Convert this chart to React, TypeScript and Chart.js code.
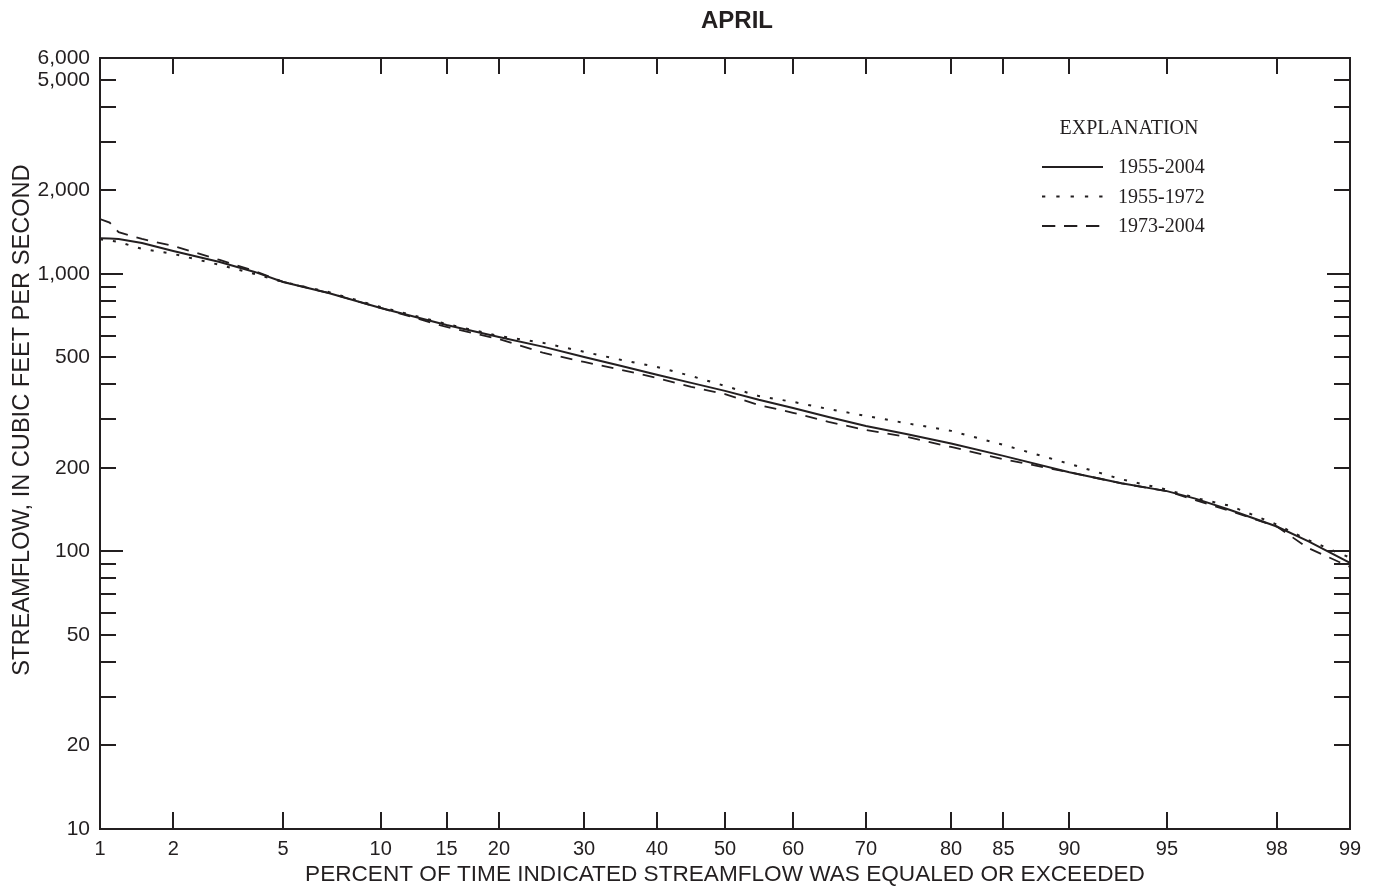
import React, { useEffect, useRef } from 'react';
import { Chart, registerables } from 'chart.js';

Chart.register(...registerables);

// ---- data (percent of time exceeded, streamflow in cfs) ----
const PERCENT = [1, 1.1, 1.2, 1.5, 2, 3, 4, 5, 7, 10, 15, 20, 25, 30, 35, 40, 45, 50, 55, 60, 65, 70, 75, 80, 85, 90, 93, 95, 96, 97, 98, 98.5, 99];
const FLOW_1955_2004 = [1345, 1343, 1337, 1293, 1210, 1105, 1017, 936, 854, 754, 655, 593, 546, 502, 466, 433, 405, 379, 352, 329, 305, 283, 265, 245, 221, 193, 176, 165, 155, 141, 123, 109, 91];
const FLOW_1955_1972 = [1333, 1320, 1304, 1231, 1181, 1078, 1000, 936, 861, 760, 660, 598, 564, 524, 490, 462, 429, 395, 363, 346, 326, 308, 290, 272, 242, 207, 182, 167, 156, 146, 125, 110, 95];
const FLOW_1973_2004 = [1578, 1531, 1414, 1337, 1262, 1123, 1025, 936, 854, 754, 644, 583, 519, 482, 451, 422, 392, 369, 337, 316, 293, 274, 259, 238, 215, 193, 176, 165, 153, 140, 123, 103, 88];

const X_TICKS = [1, 2, 5, 10, 15, 20, 30, 40, 50, 60, 70, 80, 85, 90, 95, 98, 99];
const Y_TICKS = [10, 20, 30, 40, 50, 60, 70, 80, 90, 100, 200, 300, 400, 500, 600, 700, 800, 900, 1000, 2000, 3000, 4000, 5000, 6000];
const Y_LABELS = [10, 20, 50, 100, 200, 500, 1000, 2000, 5000, 6000];
const Y_MAJOR = [10, 100, 1000];

const TITLE = 'APRIL';
const X_TITLE = 'PERCENT OF TIME INDICATED STREAMFLOW WAS EQUALED OR EXCEEDED';
const Y_TITLE = 'STREAMFLOW, IN CUBIC FEET PER SECOND';
const LEGEND_TITLE = 'EXPLANATION';

const INK = '#231f20';
const SANS = '"Liberation Sans", Arial, Helvetica, sans-serif';
const SERIF = '"Liberation Serif", "Times New Roman", serif';

// inverse standard normal CDF (probability-scale transform)
function probit(p: number): number {
  const a = [-3.969683028665376e1, 2.209460984245205e2, -2.759285104469687e2, 1.38357751867269e2, -3.066479806614716e1, 2.506628277459239];
  const b = [-5.447609879822406e1, 1.615858368580409e2, -1.556989798598866e2, 6.680131188771972e1, -1.328068155288572e1];
  const c = [-7.784894002430293e-3, -3.223964580411365e-1, -2.400758277161838, -2.549732539343734, 4.374664141464968, 2.938163982698783];
  const d = [7.784695709041462e-3, 3.224671290700398e-1, 2.445134137142996, 3.754408661907416];
  const plow = 0.02425;
  if (p < plow) {
    const q = Math.sqrt(-2 * Math.log(p));
    return (((((c[0] * q + c[1]) * q + c[2]) * q + c[3]) * q + c[4]) * q + c[5]) / ((((d[0] * q + d[1]) * q + d[2]) * q + d[3]) * q + 1);
  }
  if (p <= 1 - plow) {
    const q = p - 0.5;
    const r = q * q;
    return ((((((a[0] * r + a[1]) * r + a[2]) * r + a[3]) * r + a[4]) * r + a[5]) * q) / (((((b[0] * r + b[1]) * r + b[2]) * r + b[3]) * r + b[4]) * r + 1);
  }
  const q = Math.sqrt(-2 * Math.log(1 - p));
  return -(((((c[0] * q + c[1]) * q + c[2]) * q + c[3]) * q + c[4]) * q + c[5]) / ((((d[0] * q + d[1]) * q + d[2]) * q + d[3]) * q + 1);
}

const decorPlugin = {
  id: 'decor',
  afterDraw(chart: any) {
    const { ctx, chartArea } = chart;
    const { left, right, top, bottom } = chartArea;
    const xs = chart.scales.x;
    const ys = chart.scales.y;
    ctx.save();
    ctx.strokeStyle = INK;
    ctx.fillStyle = INK;

    // inward ticks
    ctx.lineWidth = 2;
    ctx.beginPath();
    X_TICKS.forEach((p) => {
      const px = Math.round(xs.getPixelForValue(probit(p / 100)));
      ctx.moveTo(px, bottom);
      ctx.lineTo(px, bottom - 17);
      ctx.moveTo(px, top);
      ctx.lineTo(px, top + 16);
    });
    Y_TICKS.forEach((v) => {
      const py = Math.round(ys.getPixelForValue(v));
      const len = Y_MAJOR.includes(v) ? 23 : 16;
      ctx.moveTo(left, py);
      ctx.lineTo(left + len, py);
      ctx.moveTo(right, py);
      ctx.lineTo(right - len, py);
    });
    ctx.stroke();

    // frame
    ctx.lineWidth = 2;
    ctx.strokeRect(left, top, right - left, bottom - top);

    // title
    ctx.font = `bold 24px ${SANS}`;
    ctx.textAlign = 'center';
    ctx.textBaseline = 'middle';
    ctx.fillText(TITLE, 737, 21);

    // x title
    ctx.font = `22.6px ${SANS}`;
    ctx.fillText(X_TITLE, 725, 875);

    // y title
    ctx.save();
    ctx.translate(22, 420);
    ctx.rotate(-Math.PI / 2);
    ctx.font = `23.6px ${SANS}`;
    ctx.fillText(Y_TITLE, 0, 0);
    ctx.restore();

    // legend
    ctx.font = `20px ${SERIF}`;
    ctx.textAlign = 'center';
    ctx.fillText(LEGEND_TITLE, 1129, 129);
    const rows = [167, 196.5, 226];
    const dashes = [[], [3.3, 11], [13.3, 8.7]];
    chart.data.datasets.forEach((ds: any, i: number) => {
      const y = rows[i];
      ctx.beginPath();
      ctx.lineWidth = 2;
      ctx.setLineDash(dashes[i]);
      ctx.moveTo(1042, y);
      ctx.lineTo(1103, y);
      ctx.stroke();
      ctx.setLineDash([]);
      ctx.textAlign = 'left';
      ctx.fillText(ds.label, 1118, y + 1);
    });
    ctx.restore();
  },
};

export default function App() {
  const ref = useRef<HTMLCanvasElement>(null);
  useEffect(() => {
    const canvas = ref.current!;
    const zs = PERCENT.map((p) => probit(p / 100));
    const mk = (vals: number[]) => vals.map((v, i) => ({ x: zs[i], y: v }));
    const chart = new Chart(canvas, {
      type: 'line',
      data: {
        datasets: [
          { label: '1955-2004', data: mk(FLOW_1955_2004), borderColor: INK, borderWidth: 2, pointRadius: 0, tension: 0 },
          { label: '1955-1972', data: mk(FLOW_1955_1972), borderColor: INK, borderWidth: 2, borderDash: [3, 10], pointRadius: 0, tension: 0 },
          { label: '1973-2004', data: mk(FLOW_1973_2004), borderColor: INK, borderWidth: 1.8, borderDash: [12, 9], pointRadius: 0, tension: 0 },
        ],
      },
      options: {
        responsive: false,
        animation: false,
        devicePixelRatio: 1,
        layout: { padding: { left: 0, right: 30, top: 58, bottom: 0 } },
        plugins: { legend: { display: false }, tooltip: { enabled: false }, title: { display: false } },
        scales: {
          x: {
            type: 'linear',
            min: probit(0.01),
            max: probit(0.99),
            grid: { display: false },
            border: { display: false },
            afterBuildTicks: (s: any) => {
              s.ticks = X_TICKS.map((p) => ({ value: probit(p / 100) }));
            },
            afterFit: (s: any) => {
              s.height = 64;
            },
            ticks: {
              autoSkip: false,
              maxRotation: 0,
              minRotation: 0,
              padding: 0,
              color: INK,
              font: { family: SANS, size: 20 },
              callback: (_v: any, i: number) => String(X_TICKS[i]),
            },
          },
          y: {
            type: 'logarithmic',
            min: 10,
            max: 6000,
            grid: { display: false },
            border: { display: false },
            afterBuildTicks: (s: any) => {
              s.ticks = Y_TICKS.map((v) => ({ value: v }));
            },
            afterFit: (s: any) => {
              s.width = 100;
            },
            ticks: {
              autoSkip: false,
              padding: 2,
              color: INK,
              font: { family: SANS, size: 21 },
              callback: (v: any) => (Y_LABELS.includes(Number(v)) ? Number(v).toLocaleString('en-US') : ''),
            },
          },
        },
      },
      plugins: [decorPlugin],
    });
    return () => chart.destroy();
  }, []);
  return (
    <div style={{ position: 'fixed', left: 0, top: 0, width: 1380, height: 893, background: '#fff' }}>
      <canvas ref={ref} width={1380} height={893} style={{ display: 'block' }} />
    </div>
  );
}
